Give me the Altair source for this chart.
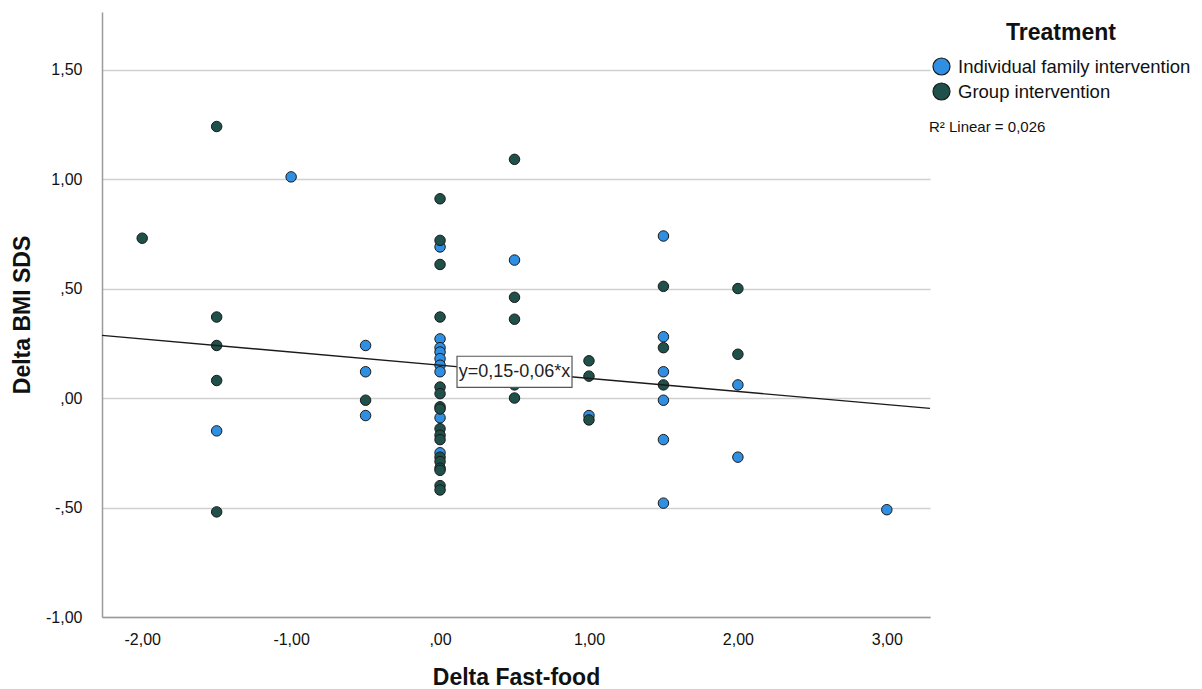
import altair as alt
import pandas as pd

# ---------------- data ----------------
groups = ["Individual family intervention", "Group intervention"]
group_colors = ["#2f8fe3", "#1f5049"]

ind_x = [-1.5, -1.0, -0.5, -0.5, -0.5, 0, 0, 0, 0, 0, 0, 0, 0, 0,
         0.5, 1.0, 1.5, 1.5, 1.5, 1.5, 1.5, 1.5, 2.0, 2.0, 3.0]
ind_y = [-0.15, 1.01, 0.24, 0.12, -0.08, 0.69, 0.27, 0.23, 0.21, 0.18, 0.15, 0.12, -0.09, -0.25,
         0.63, -0.08, 0.74, 0.28, 0.12, -0.01, -0.19, -0.48, 0.06, -0.27, -0.51]

grp_x = [-2.0, -1.5, -1.5, -1.5, -1.5, -1.5, -0.5,
         0, 0, 0, 0, 0, 0, 0, 0, 0, 0, 0, 0, 0, 0, 0, 0, 0,
         0.5, 0.5, 0.5, 0.5, 0.5, 1.0, 1.0, 1.0, 1.5, 1.5, 1.5, 2.0, 2.0]
grp_y = [0.73, 1.24, 0.37, 0.24, 0.08, -0.52, -0.01,
         0.91, 0.72, 0.61, 0.37, 0.05, 0.02, -0.04, -0.05, -0.14, -0.17, -0.19, -0.27, -0.29, -0.32, -0.33, -0.40, -0.42,
         1.09, 0.46, 0.36, 0.06, 0.00, 0.17, 0.10, -0.10, 0.51, 0.23, 0.06, 0.50, 0.20]

x_ticks = [-2, -1, 0, 1, 2, 3]
y_ticks = [-1.0, -0.5, 0.0, 0.5, 1.0, 1.5]
x_domain = [-2.27, 3.29]
y_domain = [-1.0, 1.763]

fit_intercept = 0.15
fit_slope = -0.06
fit_label = "y=0,15-0,06*x"
fit_label_x = 0.5
fit_label_y = 0.12
r2_text = "R² Linear = 0,026"

FONT = "Liberation Sans"

# ---------------- tables ----------------
pts = pd.DataFrame({
    "x": ind_x + grp_x,
    "y": ind_y + grp_y,
    "Treatment": [groups[0]] * len(ind_x) + [groups[1]] * len(grp_x),
})
pts["order"] = range(len(pts))

line_df = pd.DataFrame({
    "x": x_domain,
    "y": [fit_intercept + fit_slope * v for v in x_domain],
})
label_df = pd.DataFrame({"x": [fit_label_x], "y": [fit_label_y], "t": [fit_label]})
r2_df = pd.DataFrame({"t": [r2_text]})

# SPSS-style labels: 1,50  ,50  ,00  -,50  -1,00
fmt = ("(datum.value < 0 ? '-' : '') + replace("
       "(abs(datum.value) < 1 ? substring(format(abs(datum.value), '.2f'), 1) "
       ": format(abs(datum.value), '.2f')), '.', ',')")

xs = alt.Scale(domain=x_domain, nice=False, zero=False)
ys = alt.Scale(domain=y_domain, nice=False, zero=False)

x_axis = alt.Axis(values=x_ticks, labelExpr=fmt, grid=False, ticks=False,
                  labelPadding=14, titlePadding=19, title="Delta Fast-food",
                  labelFontSize=16, titleFontSize=23)
y_axis = alt.Axis(values=y_ticks, labelExpr=fmt, grid=True, ticks=False,
                  labelPadding=20, titlePadding=11, title="Delta BMI SDS",
                  labelFontSize=16, titleFontSize=23)

points = alt.Chart(pts).mark_circle(size=110, stroke="#1a1a1a", strokeWidth=1, opacity=1).encode(
    x=alt.X("x:Q", scale=xs, axis=x_axis),
    y=alt.Y("y:Q", scale=ys, axis=y_axis),
    color=alt.Color("Treatment:N",
                    scale=alt.Scale(domain=groups, range=group_colors),
                    sort=groups,
                    legend=alt.Legend(
                        title="Treatment", orient="none", legendX=830, legendY=10,
                        titleFontSize=23, titleFont=FONT, titleFontWeight="bold",
                        titleColor="#111", titleAnchor="middle", titlePadding=12,
                        labelFontSize=18.5, labelFont=FONT, labelColor="#111",
                        labelLimit=400,
                        labelOffset=7, rowPadding=2, symbolType="circle",
                        symbolSize=289, symbolStrokeColor="#1a1a1a",
                        symbolStrokeWidth=1.2, symbolOpacity=1)),
    order=alt.Order("order:Q"),
)

fit = alt.Chart(line_df).mark_line(color="#1a1a1a", strokeWidth=1.4).encode(
    x=alt.X("x:Q", scale=xs), y=alt.Y("y:Q", scale=ys)
)

box = alt.Chart(label_df).mark_point(
    shape="M-1,-0.27L1,-0.27L1,0.27L-1,0.27Z", size=13225, filled=True,
    fill="white", stroke="#555555", strokeWidth=1.2, opacity=1
).encode(x=alt.X("x:Q", scale=xs), y=alt.Y("y:Q", scale=ys))

box_text = alt.Chart(label_df).mark_text(font=FONT, fontSize=18, color="#222").encode(
    x=alt.X("x:Q", scale=xs), y=alt.Y("y:Q", scale=ys), text="t:N"
)

r2 = alt.Chart(r2_df).mark_text(font=FONT, fontSize=15, color="#111", align="left",
                                baseline="middle").encode(
    x=alt.value(827), y=alt.value(115), text="t:N"
)

chart = alt.layer(points, fit, box, box_text, r2).properties(
    width=828, height=605,
    padding={"left": 3, "top": 4, "right": 0, "bottom": 0},
).configure_view(stroke=None).configure_axis(
    labelFont=FONT, titleFont=FONT, labelColor="#111", titleColor="#111",
    titleFontWeight="bold", domainColor="#9a9a9a", domainWidth=1.5,
    gridColor="#d0d0d0", gridWidth=1.5
)

chart.save("out.html", embed_options={"renderer": "svg", "actions": False})
